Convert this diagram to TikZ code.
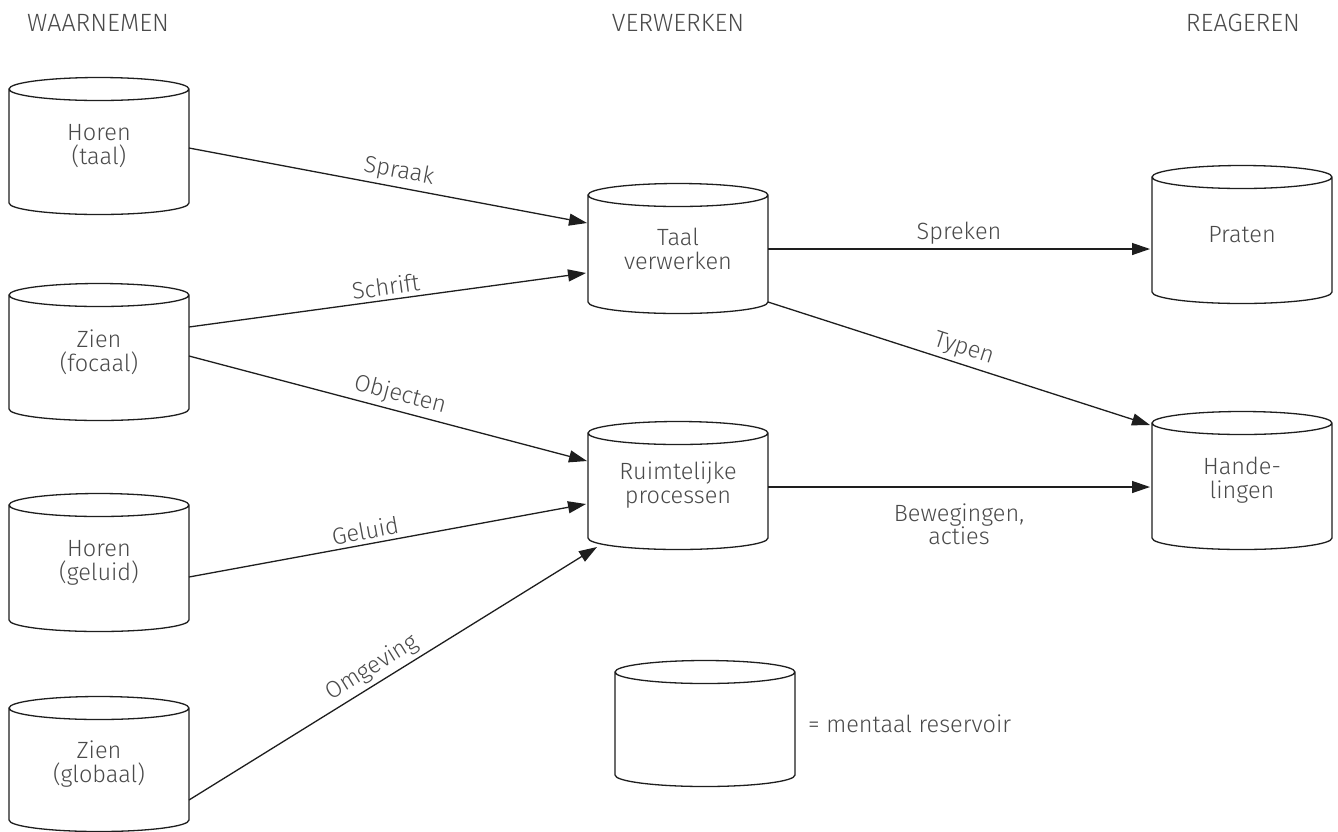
\documentclass[tikz,border=0pt]{standalone}
\usepackage{fontspec}
\setmainfont{Fira Sans Light}
\usetikzlibrary{arrows.meta}
\definecolor{txt}{HTML}{4A4A4A}
\definecolor{ln}{HTML}{1E1E1E}
\tikzset{
  cylbox/.style={minimum width=180pt, inner sep=0pt, outer sep=0pt, align=center, text=txt, font=\fontsize{23.5}{24}\selectfont},
  cylline/.style={draw=ln, line width=1.3pt},
  conn/.style={draw=ln, line width=1.3pt, -{Triangle[length=18pt,width=12pt]}},
  lbl/.style={text=txt, font=\fontsize{23.5}{23}\selectfont, inner sep=4pt, align=center},
  hdr/.style={text=txt, font=\fontsize{25}{26}\selectfont, inner sep=0pt}
}
\newcommand\mycyl[5]{%
  \node[cylbox, minimum height={(#4-#3)*1pt}] (#1) at ({#2+90},{(#3+#4)/2}) {#5};
  \draw[cylline] (#1.north west) -- (#1.south west)
    arc[start angle=180,end angle=360,x radius=90pt,y radius=11.5pt]
    -- (#1.north east)
    arc[start angle=0,end angle=360,x radius=90pt,y radius=11.5pt];
}
\begin{document}
\begin{tikzpicture}[x=1pt,y=-1pt]
\useasboundingbox[fill=white] (0,0) rectangle (1338,831);
% headers
\node[hdr] (h1) at (98,23) {WAARNEMEN};
\node[hdr] (h2) at (678,23) {VERWERKEN};
\node[hdr] (h3) at (1243,23) {REAGEREN};
% cylinders
\mycyl{ht}{9}{89}{203}{Horen\\(taal)}
\mycyl{zf}{9}{295}{409}{Zien\\(focaal)}
\mycyl{hg}{9}{505}{620}{Horen\\(geluid)}
\mycyl{zg}{9}{708}{820}{Zien\\(globaal)}
\mycyl{tv}{588}{195}{302}{Taal\\verwerken}
\mycyl{rp}{588}{433}{538}{Ruimtelijke\\processen}
\mycyl{pr}{1152}{177}{292}{Praten}
\mycyl{hd}{1152}{423}{538}{Hande-\\lingen}
\mycyl{leg}{615}{672}{775}{}
\node[lbl, anchor=west] (legtxt) at ([xshift=9pt]leg.east) {= mentaal reservoir};
% connectors
\draw[conn] ([yshift=-2pt]ht.east) -- node[lbl, pos=.52, above, sloped] {Spraak} ([xshift=-1pt,yshift=25.5pt]tv.west);
\draw[conn] ([yshift=25pt]zf.east) -- node[lbl, pos=.5, above, sloped] {Schrift} ([xshift=-2pt,yshift=-24.5pt]tv.west);
\draw[conn] ([yshift=-4pt]zf.east) -- node[lbl, pos=.52, above, sloped] {Objecten} ([xshift=-1pt,yshift=24.5pt]rp.west);
\draw[conn] ([yshift=-14.5pt]hg.east) -- node[lbl, pos=.45, above, sloped] {Geluid} ([xshift=-2pt,yshift=-18.5pt]rp.west);
\draw[conn] ([yshift=-36pt]zg.east) -- node[lbl, pos=.47, above, sloped] {Omgeving} ([xshift=9pt,yshift=-9pt]rp.south west);
\draw[conn] ([yshift=-0.5pt]tv.east) -- node[lbl, pos=.5, above] {Spreken} ([xshift=-2pt,yshift=-14.5pt]pr.west);
\draw[conn] (tv.south east) -- node[lbl, pos=.5, above, sloped] {Typen} ([xshift=-2pt,yshift=-2pt]hd.north west);
\draw[conn] ([yshift=-1.5pt]rp.east) -- node[lbl, pos=.5, below, yshift=-12pt] {Bewegingen,\\acties} ([xshift=-2pt,yshift=-6.5pt]hd.west);
\end{tikzpicture}
\end{document}
